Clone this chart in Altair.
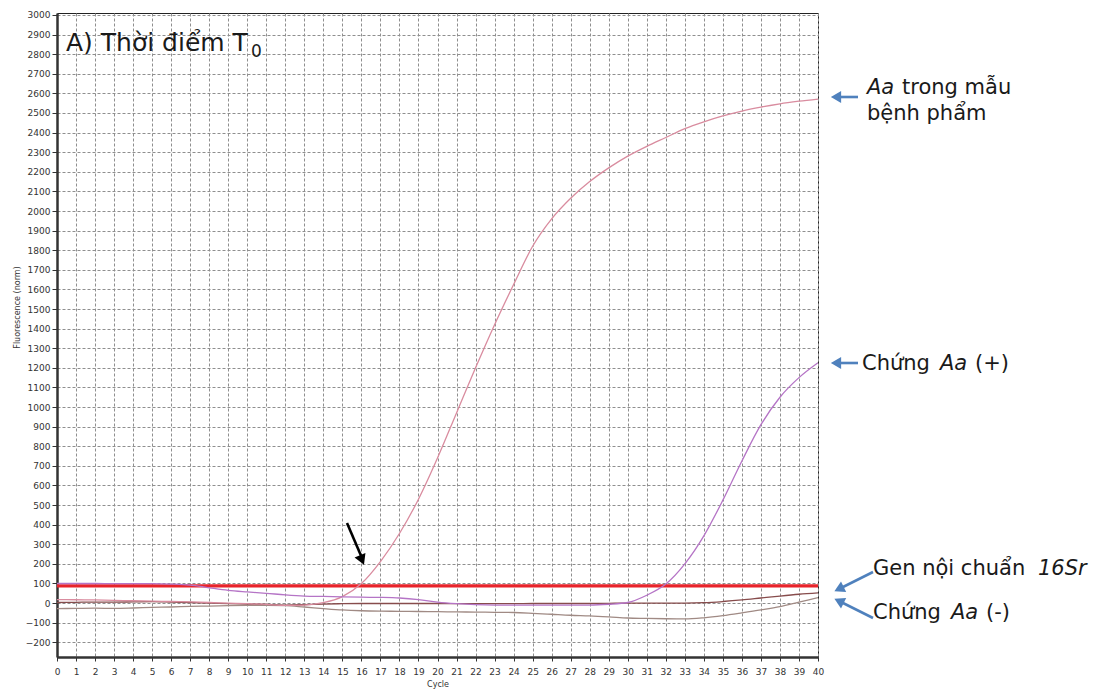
import altair as alt
import pandas as pd

# ---------------- data ----------------
cycles = list(range(41))
aa_sample = [18, 17, 16, 14, 12, 10, 8, 6, 3, 0, -3, -7, -12, -10, 2, 33, 100, 212, 355, 530,
             740, 970, 1200, 1420, 1625, 1820, 1960, 2065, 2150, 2220, 2280, 2330, 2375, 2420,
             2455, 2485, 2510, 2530, 2547, 2560, 2571]
aa_pos = [100, 100, 100, 99, 99, 99, 97, 92, 78, 65, 57, 50, 42, 36, 34, 32, 30, 29, 26, 18,
          5, -3, -8, -10, -10, -10, -10, -10, -10, -6, 3, 40, 97, 200, 343, 525, 725, 910,
          1050, 1150, 1226]
brown_curve = [3, 4, 5, 5, 6, 7, 5, 3, 0, -3, -5, -7, -10, -8, -5, -3, -2, -2, -2, -2, -2,
               -3, -3, -3, -3, -2, -2, -2, -2, -1, 0, 0, 0, 0, 2, 8, 16, 26, 36, 45, 52]
aa_neg = [-28, -27, -26, -27, -25, -22, -20, -17, -15, -13, -12, -12, -13, -20, -28, -35, -39,
          -41, -42, -43, -44, -45, -46, -47, -48, -52, -57, -62, -65, -70, -76, -78, -80, -81,
          -75, -64, -50, -35, -18, 5, 28]
threshold = [88]

series_names = ["Chứng Aa (-)", "nền", "Aa trong mẫu bệnh phẩm", "Chứng Aa (+)"]
series_colors = ["#a08a84", "#874c4c", "#d98c9f", "#b574c6"]
y_ticks = list(range(-200, 3001, 100))
x_ticks = list(range(0, 41))

# ---------------- layout helpers (pixel -> data) ----------------
PAD_L, PAD_T, W, H = 57, 13, 761, 644
X_DOM = [0, 40]
Y_DOM = [-275, 3010]

def fx(px):
    return X_DOM[0] + (px - PAD_L) / W * (X_DOM[1] - X_DOM[0])

def fy(py):
    return Y_DOM[1] - (py - PAD_T) / H * (Y_DOM[1] - Y_DOM[0])

rows = []
for name, vals in zip(series_names, [aa_neg, brown_curve, aa_sample, aa_pos]):
    for c, v in zip(cycles, vals):
        rows.append({"cycle": c, "value": v, "series": name})
df = pd.DataFrame(rows)

xs = alt.Scale(domain=X_DOM, nice=False, zero=False)
ys = alt.Scale(domain=Y_DOM, nice=False, zero=False)

X_AXIS = alt.Axis(values=x_ticks, title="Cycle", format="d", labelFlush=False,
                  labelOverlap=False, labelAngle=0, labelFont="DejaVu Sans", labelFontSize=9,
                  labelColor="#333", tickSize=4, tickColor="#333", labelPadding=6,
                  domainColor="#333", domainWidth=2.5,
                  grid=True, gridDash=[3, 2], gridColor="#8f8f8f", gridWidth=1,
                  titleFont="DejaVu Sans", titleFontSize=8, titleFontWeight="normal",
                  titleColor="#333", titleY=27, titleBaseline="middle")
Y_AXIS = alt.Axis(values=y_ticks, title="Fluorescence (norm)", format="d", labelFlush=False,
                  labelOverlap=False, labelFont="DejaVu Sans", labelFontSize=9,
                  labelColor="#333", tickSize=5, tickColor="#333", labelPadding=2,
                  domainColor="#333", domainWidth=2.5,
                  grid=True, gridDash=[3, 2], gridColor="#8f8f8f", gridWidth=1,
                  titleFont="DejaVu Sans", titleFontSize=8, titleFontWeight="normal",
                  titleColor="#333", titleX=-40, titleY=294, titleBaseline="middle")

XE = alt.X("cycle:Q", scale=xs, axis=X_AXIS)
YE = alt.Y("value:Q", scale=ys, axis=Y_AXIS)

thr = alt.Chart(pd.DataFrame({"value": threshold})).mark_rule(
    color="#e8242b", strokeWidth=3.2).encode(y=YE, x=alt.value(0), x2=alt.value(W))

lines = alt.Chart(df).mark_line(strokeWidth=1.3, interpolate="monotone", clip=True).encode(
    x=XE, y=YE,
    color=alt.Color("series:N", scale=alt.Scale(domain=series_names, range=series_colors),
                    legend=None),
    order=alt.Order("cycle:Q"),
)

# ---------------- annotations ----------------
TXT = "#1a1a1a"
ann = pd.DataFrame([
    {"cycle": fx(867), "value": fy(88), "t": "Aa", "st": "italic"},
    {"cycle": fx(902), "value": fy(88), "t": "trong mẫu", "st": "normal"},
    {"cycle": fx(867), "value": fy(114), "t": "bệnh phẩm", "st": "normal"},
    {"cycle": fx(862), "value": fy(364), "t": "Chứng", "st": "normal"},
    {"cycle": fx(940), "value": fy(364), "t": "Aa", "st": "italic"},
    {"cycle": fx(975), "value": fy(364), "t": "(+)", "st": "normal"},
    {"cycle": fx(873), "value": fy(569), "t": "Gen nội chuẩn", "st": "normal"},
    {"cycle": fx(1038), "value": fy(569), "t": "16Sr", "st": "italic"},
    {"cycle": fx(873), "value": fy(613), "t": "Chứng", "st": "normal"},
    {"cycle": fx(951), "value": fy(613), "t": "Aa", "st": "italic"},
    {"cycle": fx(986), "value": fy(613), "t": "(-)", "st": "normal"},
])

def ann_layer(style):
    return alt.Chart(ann).transform_filter(alt.datum.st == style).mark_text(
        align="left", baseline="middle", font="DejaVu Sans", fontSize=21, color=TXT,
        fontStyle=style).encode(x=XE, y=YE, text="t:N")

title_df = pd.DataFrame([
    {"cycle": fx(66), "value": fy(43), "t": "A) Thời điểm T", "s": 25},
    {"cycle": fx(251), "value": fy(52), "t": "0", "s": 17},
])
title_text = alt.Chart(title_df).mark_text(align="left", baseline="middle",
                                           font="DejaVu Sans", color=TXT).encode(
    x=XE, y=YE, text="t:N", size=alt.Size("s:Q", scale=None, legend=None),
)

arrows = pd.DataFrame([
    {"cycle": fx(858), "value": fy(97), "c2": fx(837), "v2": fy(97), "hx": fx(836), "hy": fy(97), "a": 0},
    {"cycle": fx(858), "value": fy(363), "c2": fx(837), "v2": fy(363), "hx": fx(836), "hy": fy(363), "a": 0},
    {"cycle": fx(873), "value": fy(572), "c2": fx(841), "v2": fy(588), "hx": fx(839), "hy": fy(589), "a": 334},
    {"cycle": fx(873), "value": fy(618), "c2": fx(841), "v2": fy(602), "hx": fx(839), "hy": fy(601), "a": 26},
])
arrow_shaft = alt.Chart(arrows).mark_rule(strokeWidth=2.6, color="#4f81bd").encode(
    x=XE, y=YE, x2="c2:Q", y2="v2:Q")
arrow_head = alt.Chart(arrows).transform_calculate(
    cycle="datum.hx", value="datum.hy").mark_point(
    shape="triangle-left", filled=True, size=140, color="#4f81bd", opacity=1).encode(
    x=XE, y=YE, angle=alt.Angle("a:Q", scale=None))

black = pd.DataFrame([{"cycle": fx(347), "value": fy(523), "c2": fx(362), "v2": fy(558),
                       "hx": fx(362), "hy": fy(560), "a": 337}])
black_shaft = alt.Chart(black).mark_rule(strokeWidth=2.6, color="#000").encode(
    x=XE, y=YE, x2="c2:Q", y2="v2:Q")
black_head = alt.Chart(black).transform_calculate(
    cycle="datum.hx", value="datum.hy").mark_point(
    shape="triangle-down", filled=True, size=140, color="#000", opacity=1).encode(
    x=XE, y=YE, angle=alt.Angle("a:Q", scale=None))

chart = alt.layer(
    thr, lines, ann_layer("normal"), ann_layer("italic"), title_text,
    arrow_shaft, arrow_head, black_shaft, black_head
).properties(
    width=W, height=H,
    autosize=alt.AutoSizeParams(type="none"),
    padding={"left": PAD_L, "top": PAD_T, "right": 1104 - PAD_L - W, "bottom": 691 - PAD_T - H},
    background="white",
).configure_view(stroke="#222", strokeWidth=1)

chart.save("out.html", embed_options={"renderer": "svg", "actions": False})
